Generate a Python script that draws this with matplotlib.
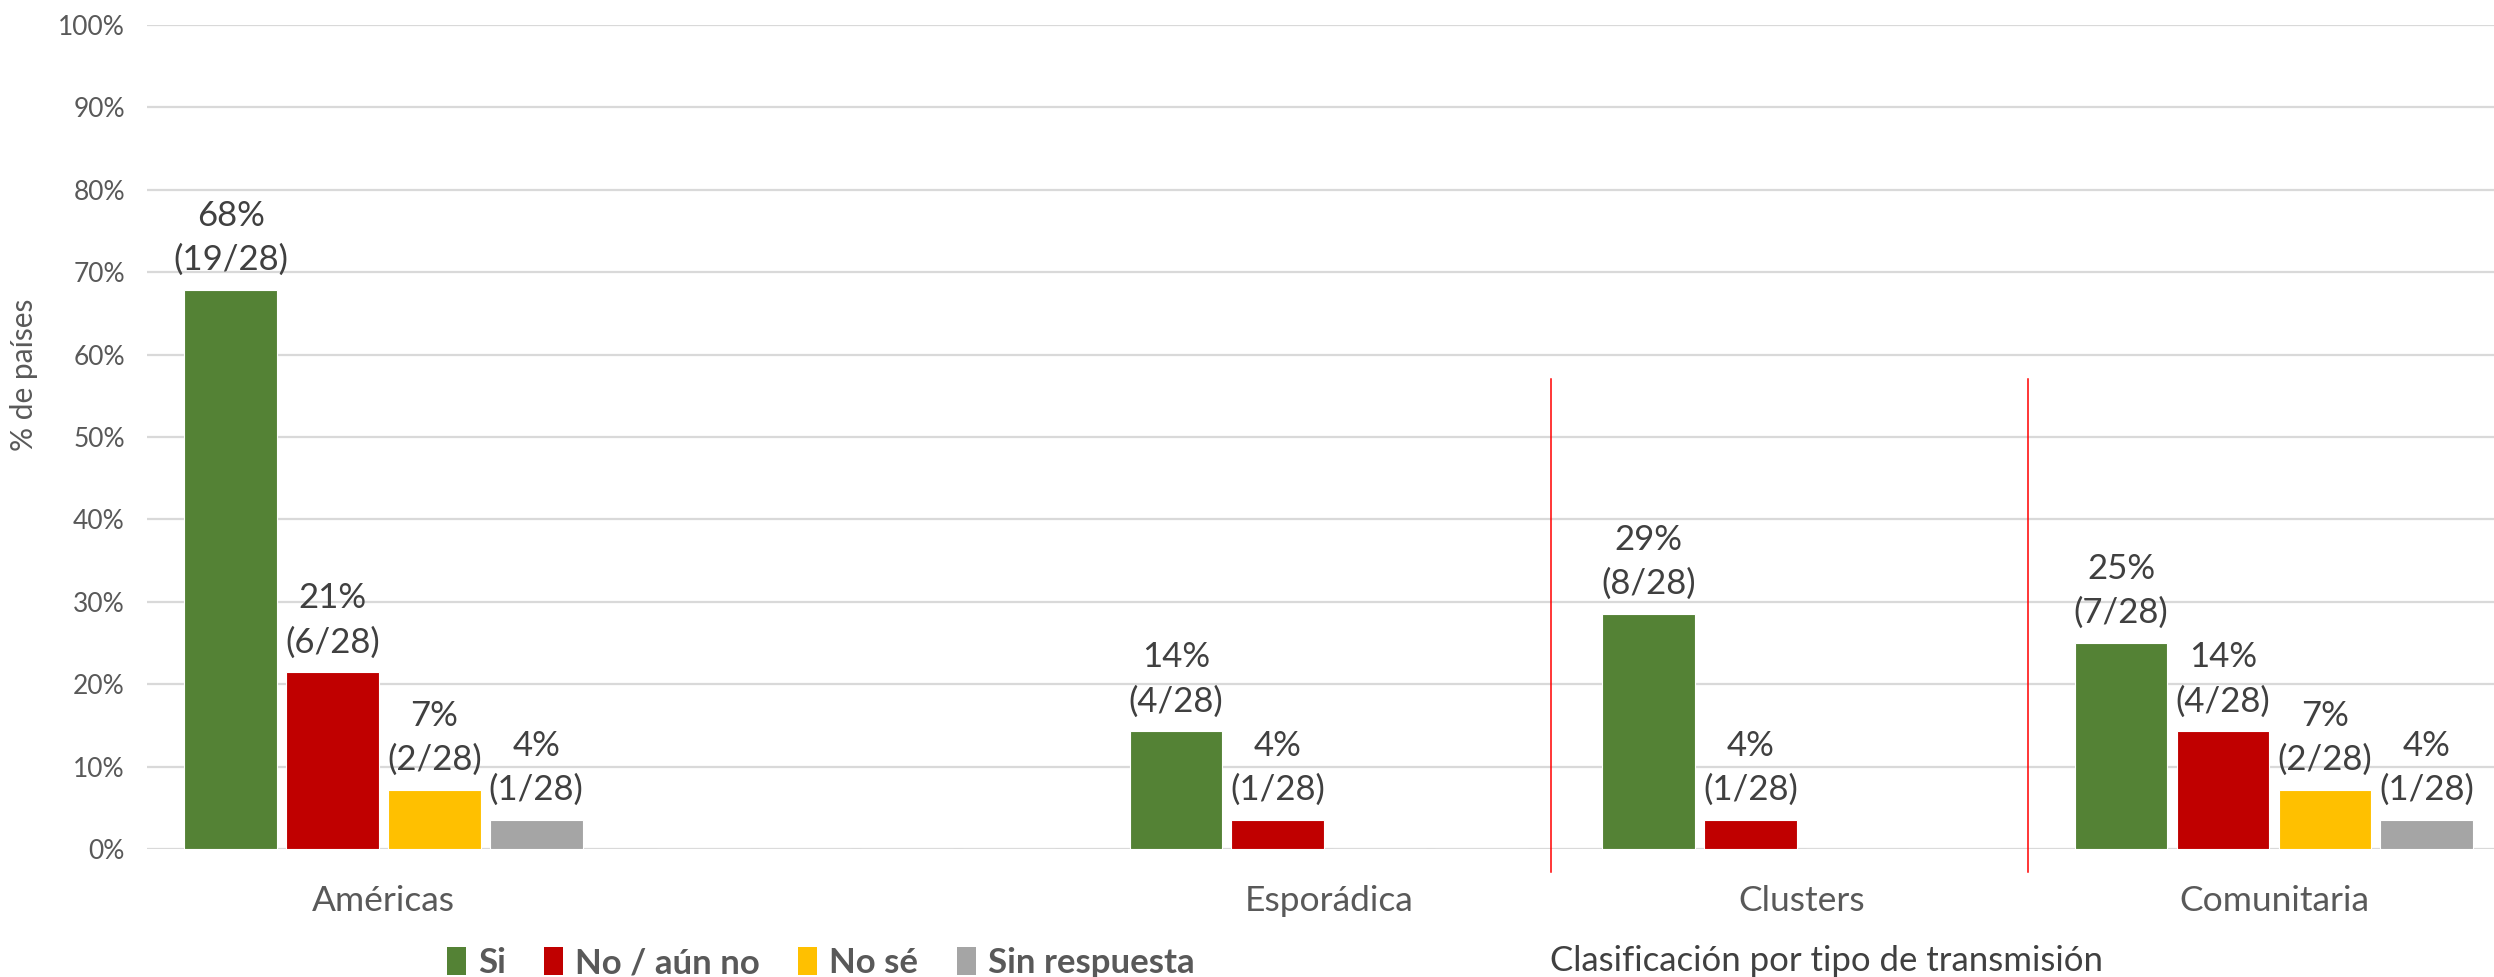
import matplotlib
matplotlib.use("Agg")
import matplotlib.pyplot as plt
from matplotlib.patches import Patch
import numpy as np

plt.rcParams['font.family'] = ['Lato', 'DejaVu Sans']

# ---- data ----
categories = ["Américas", "", "Esporádica", "Clusters", "Comunitaria"]
series_names = ["Si", "No / aún no", "No sé", "Sin respuesta"]
total = 28
si_counts = [19, 0, 4, 8, 7]
no_counts = [6, 0, 1, 1, 4]
nose_counts = [2, 0, 0, 0, 2]
sinresp_counts = [1, 0, 0, 0, 1]
y_ticks = [0, 10, 20, 30, 40, 50, 60, 70, 80, 90, 100]
y_label = "% de países"
x_title = "Clasificación por tipo de transmisión"

colors = ["#548235", "#C00000", "#FFC000", "#A5A5A5"]
text_gray = "#595959"
label_gray = "#404040"

fig = plt.figure(figsize=(24.94, 9.77), dpi=100)
ax = fig.add_axes([0.059, 0.131, 0.9475, 0.8434])

x = np.arange(len(categories))
step = 0.2155
width = 0.196
all_counts = [si_counts, no_counts, nose_counts, sinresp_counts]
for i, (counts, col) in enumerate(zip(all_counts, colors)):
    vals = [100.0 * c / total for c in counts]
    offs = (i - 1.5) * step
    ax.bar(x + offs, vals, width=width, color=col, edgecolor="white",
           linewidth=0.8, zorder=3)
    for xi, c, v in zip(x, counts, vals):
        if c == 0:
            continue
        ax.annotate(f"{round(v)}%\n({c}/{total})", (xi + offs, v),
                    xytext=(0, 10), textcoords="offset points",
                    ha="center", va="bottom", fontsize=25,
                    color=label_gray, linespacing=1.45, zorder=4)

ax.set_xlim(-0.5, len(categories) - 0.5)
ax.set_ylim(0, 100)
ax.set_yticks(y_ticks)
ax.set_yticklabels([f"{t}%" for t in y_ticks], fontsize=19, color=text_gray)
ax.set_xticks(x)
ax.set_xticklabels(categories, fontsize=25.5, color=text_gray)
ax.tick_params(axis="both", length=0)
ax.tick_params(axis="y", pad=16)
ax.tick_params(axis="x", pad=26)
ax.grid(axis="y", color="#D9D9D9", linewidth=1.6, zorder=0)
ax.set_axisbelow(True)
for s in ax.spines.values():
    s.set_visible(False)

ax.set_ylabel(y_label, fontsize=21.5, color=text_gray)
ax.yaxis.set_label_coords(-0.046, 0.575)

# red separator lines
for xs in [2.47, 3.48]:
    ax.plot([xs, xs], [-2.8, 57.0], color="#FF0000", linewidth=1.1,
            clip_on=False, zorder=5)

handles = [Patch(facecolor=c, edgecolor="none") for c in colors]
leg = fig.legend(handles, series_names, loc="center",
                 bbox_to_anchor=(0.329, 0.014), ncol=4, frameon=False,
                 prop={"weight": "bold", "size": 25},
                 handlelength=0.55, handleheight=0.85, handletextpad=0.35,
                 columnspacing=1.1, borderpad=0)
for t in leg.get_texts():
    t.set_color(text_gray)

fig.text(0.7325, 0.016, x_title, ha="center", va="center", fontsize=25,
         color=label_gray)

fig.savefig("out.png", dpi=100)
